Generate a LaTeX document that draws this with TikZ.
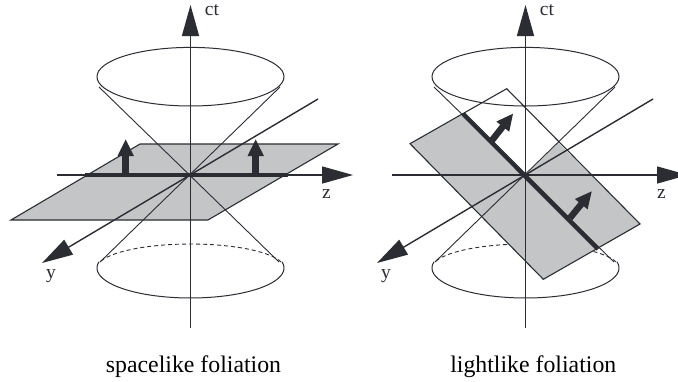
\documentclass[tikz,border=0pt]{standalone}
\usepackage{fontspec}
\setmainfont{Liberation Serif}
\usetikzlibrary{arrows.meta}
\definecolor{ink}{HTML}{2B2D33}
\definecolor{sheet}{HTML}{C4C5C7}
\tikzset{
  x=1pt,y=-1pt,
  axisline/.style={draw=ink,line width=1.4pt,-{Triangle[length=31pt,width=17pt]}},
  rim/.style={draw=ink,line width=1pt},
  conelin/.style={draw=ink,line width=0.9pt},
  hiddenrim/.style={draw=ink,line width=0.9pt,dash pattern=on 4pt off 3pt},
  planeface/.style={fill=sheet,draw=none},
  planeedge/.style={draw=ink,line width=1.1pt,line join=miter},
  thickline/.style={draw=ink,line width=4pt},
  normalarrow/.style={draw=ink,line width=6.5pt,-{Triangle[length=17pt,width=15pt]}},
  axislabel/.style={font=\fontsize{19.5}{19.5}\selectfont,text=ink,inner sep=0pt,anchor=base},
  caption/.style={font=\fontsize{23.8}{23.8}\selectfont,text=black,inner sep=0pt,anchor=base}
}
% #1 prefix, #2 x shift
\newcommand{\hiddenconerim}[2]{%
  \begin{scope}[xshift=#2pt]
    \draw[hiddenrim] plot[domain=14.6:165.4,samples=40] ({190.5+93.5*cos(\x)},{268-24*sin(\x)});
  \end{scope}}
\newcommand{\coneandaxes}[2]{%
  \begin{scope}[xshift=#2pt]
    \coordinate (#1o) at (190.5,175);
    \coordinate (#1tb) at (190.5,328);
    \coordinate (#1tt) at (190.5,5);
    \coordinate (#1zb) at (57,175);
    \coordinate (#1zt) at (353,175);
    \coordinate (#1yb) at (318,99);
    \coordinate (#1yt) at (42,263);
    \coordinate (#1cul) at (99,87);
    \coordinate (#1cur) at (280,87);
    \coordinate (#1cll) at (100,262);
    \coordinate (#1clr) at (279,262);
    \draw[rim] (190.5,76.7) ellipse [x radius=93.5,y radius=29.3];
    \draw[rim] plot[domain=168:372,samples=60] ({190.5+93.5*cos(\x)},{268-30*sin(\x)});
    \draw[conelin] (#1cul) -- (#1clr);
    \draw[conelin] (#1cur) -- (#1cll);
    \draw[axisline] (#1tb) -- (#1tt);
    \draw[axisline] (#1zb) -- (#1zt);
    \draw[axisline] (#1yb) -- (#1yt);
    \node[axislabel] (#1ct) at (212,15.5) {ct};
    \node[axislabel] (#1z) at (326.5,198) {z};
    \node[axislabel] (#1y) at (51,278) {y};
  \end{scope}}
\begin{document}
\begin{tikzpicture}
\clip (0,0) rectangle (678,381);
\fill[white] (0,0) rectangle (678,381);
% left figure
\hiddenconerim{a}{0}
\coordinate (pa1) at (140,144);
\coordinate (pa2) at (338,144);
\coordinate (pa3) at (208,220);
\coordinate (pa4) at (11,220);
\fill[planeface] (pa1) -- (pa2) -- (pa3) -- (pa4) -- cycle;
\draw[planeedge] (pa1) -- (pa2) -- (pa3) -- (pa4) -- cycle;
\coneandaxes{a}{0}
\coordinate (la) at (85,175);
\coordinate (lb) at (288,175);
\draw[thickline] (la) -- (lb);
\coordinate (na1) at (125.7,175);
\coordinate (na2) at (125.7,139);
\coordinate (nb1) at (255.7,175);
\coordinate (nb2) at (255.7,139);
\draw[normalarrow] (na1) -- (na2);
\draw[normalarrow] (nb1) -- (nb2);
% right figure
\hiddenconerim{b}{335}
\coordinate (pb1) at (506.7,88.7);
\coordinate (pb2) at (640,224);
\coordinate (pb3) at (543.3,279.3);
\coordinate (pb4) at (410,143.7);
\coordinate (lc) at (463.3,114);
\coordinate (ld) at (598,249);
\coordinate (ce) at (558.3,143);
\coordinate (cn) at (525.3,175);
\fill[planeface] (lc) -- (pb4) -- (pb3) -- (pb2) -- (ce) -- (cn) -- cycle;
\draw[planeedge] (pb1) -- (pb2) -- (pb3) -- (pb4) -- cycle;
\coneandaxes{b}{335}
\draw[thickline,line width=4.5pt] (lc) -- (ld);
\coordinate (nc1) at (491.7,140.7);
\coordinate (nc2) at (513.3,113.3);
\coordinate (nd1) at (570,218);
\coordinate (nd2) at (592,191);
\draw[normalarrow] (nc1) -- (nc2);
\draw[normalarrow] (nd1) -- (nd2);
% captions
\node[caption] (capa) at (193.5,372) {spacelike foliation};
\node[caption] (capb) at (533.3,372) {lightlike foliation};
\end{tikzpicture}
\end{document}
